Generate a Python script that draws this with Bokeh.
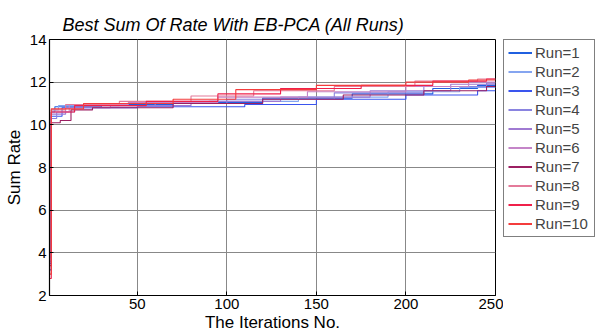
from bokeh.plotting import figure
from bokeh.embed import file_html
from bokeh.resources import INLINE
from bokeh.models import FixedTicker, Legend
from bokeh.layouts import row

# Iteration breakpoints and best sum-rate values (step-wise, held until next change)
run1_it = [1, 2, 4, 30, 70, 120, 170, 215, 240, 250]
run1_val = [3.2, 10.6, 10.85, 10.95, 11.05, 11.25, 11.45, 11.7, 11.85, 11.85]
run2_it = [1, 2, 6, 40, 90, 140, 190, 230, 250]
run2_val = [4.0, 10.7, 10.9, 11.0, 11.1, 11.3, 11.55, 11.75, 11.75]
run3_it = [1, 2, 8, 50, 110, 150, 200, 240, 250]
run3_val = [3.5, 10.4, 10.8, 10.85, 10.95, 11.2, 11.4, 11.6, 11.6]
run4_it = [1, 2, 5, 15, 60, 100, 160, 210, 245, 250]
run4_val = [3.8, 10.3, 10.6, 10.9, 11.0, 11.2, 11.5, 11.8, 11.95, 11.95]
run5_it = [1, 2, 10, 35, 80, 130, 180, 225, 250]
run5_val = [3.6, 10.5, 10.8, 10.9, 11.1, 11.3, 11.6, 11.9, 11.9]
run6_it = [1, 2, 12, 45, 95, 145, 200, 235, 250]
run6_val = [3.9, 10.6, 10.95, 11.05, 11.3, 11.55, 11.8, 12.0, 12.0]
run7_it = [1, 2, 7, 13, 25, 70, 120, 165, 210, 245, 250]
run7_val = [3.4, 10.1, 10.2, 10.7, 10.8, 11.0, 11.2, 11.4, 11.6, 11.8, 11.8]
run8_it = [1, 2, 10, 40, 80, 115, 160, 205, 240, 250]
run8_val = [3.7, 10.7, 10.95, 11.1, 11.35, 11.6, 11.8, 12.05, 12.15, 12.15]
run9_it = [1, 2, 15, 55, 95, 130, 175, 215, 245, 250]
run9_val = [2.8, 10.6, 10.9, 11.1, 11.45, 11.7, 11.85, 12.05, 12.15, 12.15]
run10_it = [1, 2, 20, 70, 105, 150, 200, 235, 250]
run10_val = [3.0, 10.75, 11.0, 11.2, 11.65, 11.85, 12.0, 12.1, 12.1]

run_names = ["Run=1", "Run=2", "Run=3", "Run=4", "Run=5",
             "Run=6", "Run=7", "Run=8", "Run=9", "Run=10"]
run_colors = ["#2060e0", "#85a5f0", "#3a55ee", "#8a84e0", "#a07ad2",
              "#c485c8", "#9c1f62", "#e47a9a", "#f0204a", "#f43c3c"]

x_ticks = [50, 100, 150, 200, 250]
y_ticks = [2, 4, 6, 8, 10, 12, 14]

runs = [(run1_it, run1_val), (run2_it, run2_val), (run3_it, run3_val),
        (run4_it, run4_val), (run5_it, run5_val), (run6_it, run6_val),
        (run7_it, run7_val), (run8_it, run8_val), (run9_it, run9_val),
        (run10_it, run10_val)]

FONT = "Liberation Sans"

p = figure(width=503, height=334, output_backend="svg", toolbar_location=None,
           x_range=(1, 250), y_range=(2, 14),
           min_border_left=49, min_border_right=8, min_border_bottom=37,
           min_border_top=39)

p.title.text = "Best Sum Of Rate With EB-PCA (All Runs)"
p.title.text_font = FONT
p.title.text_font_style = "italic"
p.title.text_font_size = "18px"
p.title.text_color = "black"
p.title.align = "left"
p.title.offset = 13
p.title.standoff = 10

for (it, val), col in zip(runs, run_colors):
    p.step(it, val, mode="after", line_color=col, line_width=1.1)

for ax in (p.xaxis[0], p.yaxis[0]):
    ax.major_label_text_font = FONT
    ax.major_label_text_font_size = "15px"
    ax.major_label_text_color = "black"
    ax.axis_label_text_font = FONT
    ax.axis_label_text_font_size = "17px"
    ax.axis_label_text_font_style = "normal"
    ax.axis_label_text_color = "black"
    ax.axis_line_color = "black"
    ax.axis_line_width = 1.2
    ax.major_tick_in = 4
    ax.major_tick_out = 0
    ax.minor_tick_in = 0
    ax.minor_tick_out = 0
    ax.major_tick_line_color = "black"

p.xaxis.ticker = FixedTicker(ticks=x_ticks)
p.yaxis.ticker = FixedTicker(ticks=y_ticks)
p.xaxis.axis_label = "The Iterations No."
p.yaxis.axis_label = "Sum Rate"
p.xaxis.major_label_standoff = 3
p.xaxis.axis_label_standoff = 1
p.yaxis.major_label_standoff = 3
p.yaxis.axis_label_standoff = 3

p.xgrid.grid_line_color = "#888888"
p.ygrid.grid_line_color = "#888888"
p.xgrid.grid_line_width = 1
p.ygrid.grid_line_width = 1

p.outline_line_color = "black"
p.outline_line_width = 1
p.background_fill_color = "white"

# Legend panel (separate figure; its lines lie outside its own view)
lg = figure(width=92, height=334, output_backend="svg", toolbar_location=None,
            x_range=(-2, -1), y_range=(-2, -1), x_axis_type=None, y_axis_type=None,
            min_border_left=0, min_border_right=0, min_border_top=39,
            min_border_bottom=37)
lg.outline_line_color = None
lg.xgrid.visible = False
lg.ygrid.visible = False
items = []
for (it, val), name, col in zip(runs, run_names, run_colors):
    r = lg.step(it, val, mode="after", line_color=col, line_width=2)
    items.append((name, [r]))

legend = Legend(items=items, location="top_left")
legend.border_line_color = "black"
legend.border_line_width = 1.5
legend.background_fill_color = "white"
legend.background_fill_alpha = 1
legend.label_text_font = FONT
legend.label_text_font_size = "15px"
legend.label_height = 17
legend.glyph_height = 17
legend.glyph_width = 24
legend.label_width = 55
legend.spacing = 2
legend.padding = 4
legend.margin = 0
legend.label_standoff = 3
lg.add_layout(legend, "center")

layout = row(p, lg, spacing=0)
open("out.html", "w").write(file_html(layout, INLINE))
